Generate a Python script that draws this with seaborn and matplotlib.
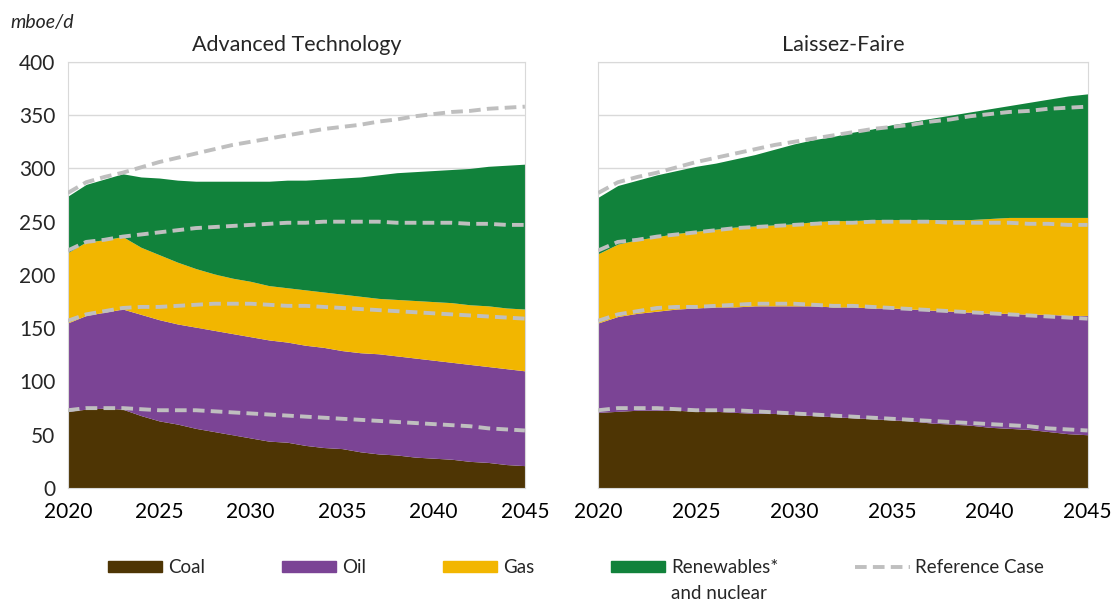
import numpy as np
import matplotlib
matplotlib.use("Agg")
import matplotlib.pyplot as plt
import matplotlib.patches as mpatches
import matplotlib.lines as mlines
import seaborn as sns

# Years on the x axis
years = list(range(2020, 2046))

# Advanced Technology: top edge of each stacked band (mboe/d)
at_coal = [72, 74, 75, 74, 68, 63, 60, 56, 53, 50, 47, 44, 43, 40, 38, 37, 34, 32, 31, 29, 28, 27, 25, 24, 22, 21]
at_oil = [155, 162, 165, 168, 163, 158, 154, 151, 148, 145, 142, 139, 137, 134, 132, 129, 127, 126, 124, 122, 120, 118, 116, 114, 112, 110]
at_gas = [221, 231, 233, 236, 226, 219, 212, 206, 201, 197, 194, 190, 188, 186, 184, 182, 180, 178, 177, 176, 175, 174, 172, 171, 169, 168]
at_total = [274, 285, 290, 295, 292, 291, 289, 288, 288, 288, 288, 288, 289, 289, 290, 291, 292, 294, 296, 297, 298, 299, 300, 302, 303, 304]

# Laissez-Faire: top edge of each stacked band (mboe/d)
lf_coal = [71, 72, 73, 73, 73, 72, 72, 71, 70, 70, 69, 68, 67, 66, 65, 64, 63, 61, 60, 59, 57, 56, 55, 53, 51, 50]
lf_oil = [155, 161, 164, 166, 168, 169, 170, 170, 171, 171, 171, 171, 170, 170, 169, 169, 168, 167, 166, 165, 164, 164, 163, 163, 162, 162]
lf_gas = [220, 229, 233, 236, 239, 241, 243, 245, 246, 247, 248, 250, 251, 251, 252, 252, 252, 252, 252, 252, 253, 254, 254, 254, 254, 254]
lf_total = [273, 284, 289, 294, 298, 302, 305, 309, 313, 318, 323, 327, 330, 334, 337, 341, 344, 347, 350, 353, 356, 359, 362, 365, 368, 370]

# Reference Case: top edge of each band (dashed lines)
ref_coal = [73, 75, 75, 75, 74, 73, 73, 73, 72, 71, 70, 69, 68, 67, 66, 65, 64, 63, 62, 61, 60, 59, 58, 56, 55, 54]
ref_oil = [157, 163, 166, 169, 170, 170, 171, 172, 173, 173, 173, 172, 171, 171, 170, 169, 168, 167, 166, 165, 164, 163, 162, 161, 160, 159]
ref_gas = [223, 231, 233, 236, 238, 240, 242, 244, 245, 246, 247, 248, 249, 249, 250, 250, 250, 250, 249, 249, 249, 249, 248, 248, 247, 247]
ref_total = [277, 287, 292, 296, 301, 306, 310, 314, 318, 322, 325, 328, 331, 334, 337, 339, 341, 344, 346, 349, 351, 353, 354, 356, 357, 358]

fuels = ["Coal", "Oil", "Gas", "Renewables*"]
colors = ["#4E3504", "#7B4495", "#F2B600", "#11823B"]
ref_color = "#BFBFBF"

sns.set_style("white")
plt.rcParams["font.family"] = ["Lato", "DejaVu Sans"]

fig = plt.figure(figsize=(11.12, 6.01), dpi=100)
ax1 = fig.add_axes([0.061, 0.188, 0.411, 0.709])
ax2 = fig.add_axes([0.538, 0.188, 0.440, 0.709], sharey=ax1)

panels = [
    (ax1, "Advanced Technology", [at_coal, at_oil, at_gas, at_total]),
    (ax2, "Laissez-Faire", [lf_coal, lf_oil, lf_gas, lf_total]),
]
refs = [ref_coal, ref_oil, ref_gas, ref_total]

for ax, title, tops in panels:
    lower = [0] * len(years)
    for top, c in zip(tops, colors):
        ax.fill_between(years, lower, top, color=c, linewidth=0, zorder=2)
        lower = top
    for r in refs:
        sns.lineplot(x=years, y=r, ax=ax, color=ref_color, linewidth=2.8,
                     linestyle=(0, (3, 1.6)), zorder=3)
    ax.set_xlim(2020, 2045)
    ax.set_ylim(0, 400)
    ax.set_xticks(range(2020, 2046, 5))
    ax.set_yticks(range(0, 401, 50))
    ax.yaxis.grid(True, color="#D9D9D9", linewidth=1, zorder=0)
    ax.set_axisbelow(True)
    for s in ax.spines.values():
        s.set_color("#D9D9D9")
    ax.tick_params(axis="x", length=5, color="#BFBFBF", labelsize=15, pad=5, colors="#000000")
    ax.tick_params(axis="y", length=0, labelsize=15, pad=9)
    ax.set_title(title, fontsize=15.5, pad=8)
    ax.set_xlabel("")
    ax.set_ylabel("")

ax2.tick_params(axis="y", labelleft=False)

fig.text(0.009, 0.962, "mboe/d", fontsize=14, style="italic", ha="left", va="center")

handles = [mpatches.Patch(color=c, label=f) for f, c in zip(fuels, colors)]
handles.append(mlines.Line2D([], [], color=ref_color, linewidth=2.8,
                             linestyle=(0, (3, 1.6)), label="Reference Case"))
leg = fig.legend(handles=handles, loc="center", bbox_to_anchor=(0.518, 0.055), ncol=5,
                 frameon=False, fontsize=13.5, handlelength=2.9, handleheight=0.55,
                 columnspacing=4.1, handletextpad=0.3)

# second line of the renewables label sits under the first
fig.canvas.draw()
ren_text = leg.get_texts()[3]
bb = ren_text.get_window_extent()
fig.text(bb.x0 / fig.bbox.width, (bb.y0 - 26) / fig.bbox.height, "and nuclear",
         fontsize=13.5, ha="left", va="bottom")

fig.savefig("out.png", dpi=100)
